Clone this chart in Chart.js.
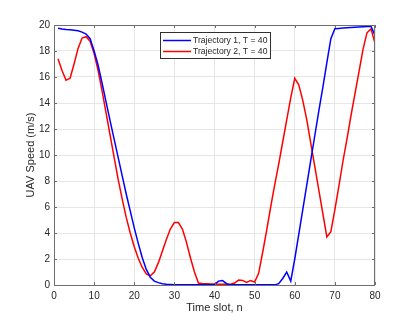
<!DOCTYPE html>
<html>
<head>
<meta charset="utf-8">
<script src="https://cdn.jsdelivr.net/npm/chart.js@4.4.1/dist/chart.umd.min.js"></script>
<style>
  html, body { margin: 0; padding: 0; background: #ffffff; }
  #wrap { width: 415px; height: 321px; position: relative; }
</style>
</head>
<body>
<div id="wrap"><canvas id="speedChart"></canvas></div>
<script>
// UAV speed per time slot, two trajectories

const slots = Array.from({ length: 80 }, (_, i) => i + 1);

const traj1Speed = [
  19.75, 19.70, 19.66, 19.63, 19.60, 19.55, 19.45, 19.30, 18.95, 18.0,
  16.9, 15.5, 14.05, 12.6, 11.2, 9.8, 8.4, 7.0, 5.7, 4.4,
  3.2, 2.1, 1.2, 0.6, 0.3, 0.18, 0.1, 0.06, 0.04, 0.02,
  0.01, 0.01, 0.01, 0.01, 0.01, 0.01, 0.01, 0.01, 0.01, 0.03,
  0.3, 0.35, 0.1, 0.01, 0.01, 0.01, 0.01, 0.01, 0.01, 0.01,
  0.01, 0.01, 0.01, 0.01, 0.01, 0.1, 0.5, 1.0, 0.3, 2.0,
  3.9, 5.8, 7.7, 9.6, 11.5, 13.4, 15.2, 17.1, 18.95, 19.72,
  19.74, 19.76, 19.78, 19.80, 19.82, 19.84, 19.86, 19.88, 19.90, 19.2
];

const traj2Speed = [
  17.4, 16.5, 15.75, 15.9, 17.0, 18.2, 19.0, 19.1, 18.75, 17.8,
  16.5, 14.9, 13.2, 11.5, 9.8, 8.1, 6.6, 5.2, 4.0, 2.95,
  2.05, 1.35, 0.85, 0.7, 1.0, 1.7, 2.6, 3.5, 4.3, 4.8,
  4.8, 4.3, 3.3, 2.1, 1.0, 0.15, 0.1, 0.1, 0.08, 0.07,
  0.06, 0.05, 0.05, 0.06, 0.15, 0.38, 0.35, 0.2, 0.35, 0.22,
  0.9, 2.5, 4.2, 6.0, 7.7, 9.3, 11.0, 12.7, 14.4, 15.9,
  15.4, 14.2, 12.7, 10.9, 9.1, 7.3, 5.5, 3.7, 4.1, 5.8,
  7.6, 9.5, 11.2, 13.0, 14.7, 16.4, 18.1, 19.4, 19.7, 18.6
];

const seriesLabels = ['Trajectory 1, T = 40', 'Trajectory 2, T = 40'];
const seriesColors = ['#0000ff', '#ff0000'];

const xTicks = [0, 10, 20, 30, 40, 50, 60, 70, 80];
const yTicks = [0, 2, 4, 6, 8, 10, 12, 14, 16, 18, 20];

const fontFamily = '"Liberation Sans", Arial, Helvetica, sans-serif';
const textColor = '#262626';
const axisColor = '#6e6e6e';
const gridColor = '#e6e6e6';

// MATLAB-ish box, inward ticks and the inset legend
const matlabAxes = {
  id: 'matlabAxes',
  afterDatasetsDraw(chart) {
    const { ctx, chartArea: a, scales } = chart;
    ctx.save();
    ctx.strokeStyle = axisColor;
    ctx.lineWidth = 1;
    ctx.strokeRect(a.left + 0.5, a.top + 0.5, a.right - a.left - 1, a.bottom - a.top);

    const tl = 3;
    ctx.beginPath();
    xTicks.forEach(v => {
      const x = Math.round(scales.x.getPixelForValue(v)) + 0.5;
      ctx.moveTo(x, a.bottom); ctx.lineTo(x, a.bottom - tl);
      ctx.moveTo(x, a.top); ctx.lineTo(x, a.top + tl);
    });
    yTicks.forEach(v => {
      const y = Math.round(scales.y.getPixelForValue(v)) + 0.5;
      ctx.moveTo(a.left, y); ctx.lineTo(a.left + tl, y);
      ctx.moveTo(a.right, y); ctx.lineTo(a.right - tl, y);
    });
    ctx.stroke();

    // legend
    const lx = 160, ly = 32, lw = 110, lh = 26;
    ctx.fillStyle = '#ffffff';
    ctx.fillRect(lx, ly, lw, lh);
    ctx.strokeStyle = '#303030';
    ctx.strokeRect(lx + 0.5, ly + 0.5, lw, lh);
    ctx.font = '8.6px ' + fontFamily;
    ctx.textBaseline = 'middle';
    ctx.textAlign = 'left';
    seriesLabels.forEach((label, i) => {
      const y = ly + 8.5 + i * 11;
      ctx.strokeStyle = seriesColors[i];
      ctx.lineWidth = 1.5;
      ctx.beginPath();
      ctx.moveTo(lx + 3, y); ctx.lineTo(lx + 31, y);
      ctx.stroke();
      ctx.fillStyle = textColor;
      ctx.fillText(label, lx + 33, y);
    });
    ctx.restore();
  }
};

const ctx = document.getElementById('speedChart').getContext('2d');
new Chart(ctx, {
  type: 'line',
  data: {
    datasets: [traj1Speed, traj2Speed].map((vals, i) => ({
      label: seriesLabels[i],
      data: slots.map((n, k) => ({ x: n, y: vals[k] })),
      borderColor: seriesColors[i],
      backgroundColor: seriesColors[i],
      borderWidth: 1.5,
      pointRadius: 0,
      tension: 0,
      fill: false
    }))
  },
  options: {
    responsive: true,
    maintainAspectRatio: false,
    animation: false,
    layout: { padding: { top: 25, right: 40, left: 0, bottom: 0 } },
    plugins: {
      legend: { display: false },
      tooltip: { enabled: false }
    },
    scales: {
      x: {
        type: 'linear',
        min: 0,
        max: 80,
        afterFit(s) { s.height = 36; },
        afterBuildTicks(s) { s.ticks = xTicks.map(v => ({ value: v })); },
        grid: { color: gridColor, drawTicks: false },
        border: { display: false },
        ticks: {
          color: textColor,
          padding: 5,
          maxRotation: 0,
          font: { family: fontFamily, size: 10 }
        },
        title: {
          display: true,
          text: 'Time slot, n',
          color: textColor,
          padding: { top: 0, bottom: 6 },
          font: { family: fontFamily, size: 11 }
        }
      },
      y: {
        min: 0,
        max: 20,
        afterFit(s) { s.width = 54; },
        afterBuildTicks(s) { s.ticks = yTicks.map(v => ({ value: v })); },
        grid: { color: gridColor, drawTicks: false },
        border: { display: false },
        ticks: {
          color: textColor,
          padding: 4,
          font: { family: fontFamily, size: 10 }
        },
        title: {
          display: true,
          text: 'UAV Speed (m/s)',
          color: textColor,
          padding: { top: 24, bottom: 0 },
          font: { family: fontFamily, size: 11 }
        }
      }
    }
  },
  plugins: [matlabAxes]
});
</script>
</body>
</html>
